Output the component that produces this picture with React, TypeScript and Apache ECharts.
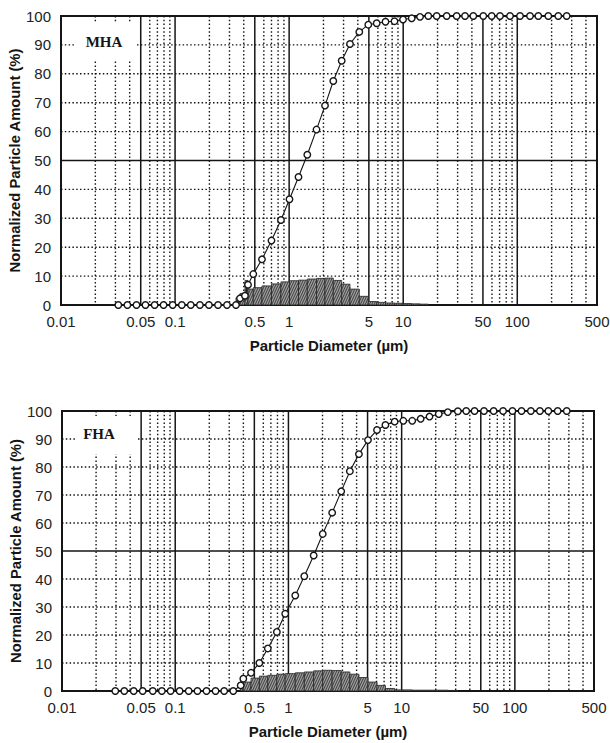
import React, { useEffect, useRef } from 'react';
import * as echarts from 'echarts';

// ---------- data ----------
const sampleNames = ['MHA', 'FHA'];

// MHA: cumulative curve (particle diameter in µm, cumulative %)
const mhaDiameters = [
  0.0318, 0.0382, 0.0459, 0.055, 0.0662, 0.0793, 0.0953, 0.1146, 0.1373, 0.1651, 0.198, 0.2379, 0.2853, 0.342,
  0.3708, 0.41, 0.436, 0.485, 0.578, 0.7, 0.848, 1.007, 1.208, 1.443, 1.738, 2.063, 2.439, 2.889, 3.417, 4.122,
  4.943, 5.856, 6.996, 8.387, 9.96, 11.87, 14.04, 16.6, 19.66, 24.06, 29.43, 34.82, 41.17, 50.37, 59.68, 70.55,
  86.35, 105.7, 129.3, 152.9, 187.1, 228.8, 271.2,
];
const mhaCumulative = [
  0, 0, 0, 0, 0, 0, 0, 0, 0, 0, 0, 0, 0, 0,
  2.3, 3.2, 7, 10.7, 15.8, 22.3, 29.4, 36.6, 44.3, 52, 60.7, 69, 77.5, 84.5, 90.3, 94.5,
  97, 97.5, 98, 98.2, 98.8, 99.2, 99.7, 100, 100, 100, 100, 100, 100, 100, 100, 100,
  100, 100, 100, 100, 100, 100, 100,
];
// MHA: frequency histogram (bin edges in µm, frequency %)
const mhaBinEdges = [
  0.342, 0.3708, 0.41, 0.436, 0.485, 0.578, 0.7, 0.848, 1.007, 1.208, 1.443, 1.738, 2.063, 2.439, 2.889, 3.417,
  4.122, 4.943, 5.856, 6.996, 8.387, 9.96, 11.87, 14.04, 16.6,
];
const mhaFrequency = [
  2.5, 4, 8.5, 5.5, 6.0, 6.6, 7.3, 8.0, 8.4, 8.6, 9.0, 9.2, 9.3, 8.5, 7.2, 5.5, 3.0, 1.2, 0.9, 0.7, 0.6, 0.5, 0.4, 0.3,
];

// FHA: cumulative curve
const fhaDiameters = [
  0.02956, 0.0355, 0.043, 0.0516, 0.0634, 0.0762, 0.091, 0.1094, 0.1315, 0.1572, 0.1889, 0.2271, 0.2707, 0.3255,
  0.3787, 0.3994, 0.4673, 0.5538, 0.6575, 0.7903, 0.9367, 1.149, 1.381, 1.671, 2.009, 2.434, 2.926, 3.488, 4.195,
  5.04, 6.06, 7.19, 8.67, 10.35, 12.4, 14.72, 17.62, 21.27, 25.56, 31.36,
  37.18, 44.05, 53.4, 64.95, 78.7, 95.2, 114.5, 138.4, 166.4, 197.6, 238.9, 287.2,
];
const fhaCumulative = [
  0, 0, 0, 0, 0, 0, 0, 0, 0, 0, 0, 0, 0, 0,
  2.0, 4.4, 6.5, 10.0, 15.2, 21.1, 27.6, 34.1, 41.0, 48.4, 56.1, 63.7, 71.3, 78.5, 84.6,
  89.6, 93.2, 95.0, 96.2, 96.5, 96.5, 97.2, 98.0, 98.9, 99.6, 99.9,
  100, 100, 100, 100, 100, 100, 100, 100, 100, 100, 100, 100,
];
// FHA: frequency histogram
const fhaBinEdges = [
  0.3787, 0.3994, 0.4673, 0.5538, 0.6575, 0.7903, 0.9367, 1.149, 1.381, 1.671, 2.009, 2.434, 2.926, 3.488, 4.195,
  5.04, 6.06, 7.19, 8.67, 10.35, 12.4, 14.72, 17.62, 21.27, 25.56, 31.36,
];
const fhaFrequency = [
  4.5, 3.2, 4.6, 5.3, 5.6, 6.0, 6.2, 6.5, 6.8, 7.2, 7.4, 7.3, 6.8, 6.0, 4.8, 3.2, 2.0, 0.9, 0.4, 0.4, 0.3, 0.3, 0.3,
  0.3, 0.2,
];

// axes
const xTickValues = [0.01, 0.05, 0.1, 0.5, 1, 5, 10, 50, 100, 500];
const xTickLabels = ['0.01', '0.05', '0.1', '0.5', '1', '5', '10', '50', '100', '500'];
const xSolidLines = [0.05, 0.1, 0.5, 1, 5, 10, 50, 100];
const xDottedLines = [
  0.02, 0.03, 0.04, 0.06, 0.07, 0.08, 0.09, 0.2, 0.3, 0.4, 0.6, 0.7, 0.8, 0.9, 2, 3, 4, 6, 7, 8, 9,
  20, 30, 40, 60, 70, 80, 90, 200, 300, 400,
];
const ySolidLines = [50];
const yDottedLines = [10, 20, 30, 40, 60, 70, 80, 90];

const SANS = '"Liberation Sans", Arial, Helvetica, sans-serif';
const SERIF = '"Liberation Serif", "Times New Roman", serif';
const INK = '#151515';
const DOT = [1.5, 2.3];

const vRender = (params: any, api: any) => {
  const cs = params.coordSys;
  const x = api.coord([api.value(0), 50])[0];
  const solid = api.value(2) === 1;
  return {
    type: 'line',
    shape: { x1: x, y1: cs.y, x2: x, y2: cs.y + cs.height },
    style: { stroke: INK, lineWidth: solid ? 1.5 : 1.4, lineDash: solid ? null : DOT },
  };
};

const hRender = (params: any, api: any) => {
  const cs = params.coordSys;
  const y = api.coord([1, api.value(1)])[1];
  const solid = api.value(2) === 1;
  return {
    type: 'line',
    shape: { x1: cs.x, y1: y, x2: cs.x + cs.width, y2: y },
    style: { stroke: INK, lineWidth: solid ? 1.5 : 1.4, lineDash: solid ? null : DOT },
  };
};

const tickRender = (params: any, api: any) => {
  const cs = params.coordSys;
  const x = api.coord([api.value(0), 0])[0];
  return {
    type: 'text',
    x,
    y: cs.y + cs.height + 9,
    style: {
      text: xTickLabels[params.dataIndex],
      align: 'center',
      verticalAlign: 'top',
      fontSize: 15,
      fontFamily: SANS,
      fill: '#222',
    },
  };
};

const histRender = (params: any, api: any) => {
  const p0 = api.coord([api.value(0), api.value(2)]);
  const p1 = api.coord([api.value(1), 0]);
  const xl = p0[0];
  const xr = p1[0];
  const yt = p0[1];
  const yb = p1[1];
  const w = xr - xl;
  const h = yb - yt;
  const children: any[] = [
    {
      type: 'rect',
      shape: { x: xl, y: yt, width: w, height: h },
      style: { fill: '#9c9c9c', stroke: '#222', lineWidth: 0.8 },
    },
  ];
  const k = 2.2;
  const step = 2.4;
  const run = h / k;
  for (let c = xl - run; c < xr; c += step) {
    const sx = Math.max(c, xl);
    const ex = Math.min(c + run, xr);
    if (ex - sx < 0.3) continue;
    children.push({
      type: 'line',
      shape: { x1: sx, y1: yb - (sx - c) * k, x2: ex, y2: yb - (ex - c) * k },
      style: { stroke: '#2a2a2a', lineWidth: 0.8 },
    });
  }
  return { type: 'group', children };
};

function panelSeries(gi: number, diam: number[], cum: number[], edges: number[], freq: number[]) {
  const vLines = [...xSolidLines.map((v) => [v, 50, 1]), ...xDottedLines.map((v) => [v, 50, 0])];
  const hLines = [...ySolidLines.map((v) => [1, v, 1]), ...yDottedLines.map((v) => [1, v, 0])];
  const bins = freq.map((f, i) => [edges[i], edges[i + 1], f]);
  const common = { xAxisIndex: gi, yAxisIndex: gi, silent: true };
  return [
    { ...common, type: 'custom', z: 1, encode: { x: 0, y: 1 }, data: vLines, renderItem: vRender },
    { ...common, type: 'custom', z: 1, encode: { x: 0, y: 1 }, data: hLines, renderItem: hRender },
    { ...common, type: 'custom', z: 3, encode: { x: [0, 1], y: 2 }, data: bins, renderItem: histRender },
    {
      ...common,
      type: 'custom',
      z: 4,
      encode: { x: 0, y: 1 },
      data: xTickValues.map((v) => [v, 0]),
      renderItem: tickRender,
    },
    {
      ...common,
      type: 'line',
      z: 5,
      data: diam.map((d, i) => [d, cum[i]]),
      symbol: 'circle',
      symbolSize: 6.5,
      showSymbol: true,
      lineStyle: { color: INK, width: 1.1 },
      itemStyle: { color: '#fff', borderColor: INK, borderWidth: 1.4 },
    },
  ];
}

function xAxisFor(gi: number) {
  return {
    type: 'log',
    logBase: 10,
    gridIndex: gi,
    min: 0.01,
    max: 500,
    axisLine: { show: true, onZero: false, lineStyle: { color: INK, width: 2 } },
    axisTick: { show: false },
    axisLabel: { show: false },
    splitLine: { show: false },
    minorTick: { show: false },
    minorSplitLine: { show: false },
    name: 'Particle Diameter (µm)',
    nameLocation: 'middle',
    nameGap: 33,
    nameMoveOverlap: false,
    nameTextStyle: { fontSize: 15, fontWeight: 'bold', fontFamily: SANS, color: INK },
  };
}

function yAxisFor(gi: number) {
  return {
    type: 'value',
    gridIndex: gi,
    min: 0,
    max: 100,
    interval: 10,
    axisLine: { show: true, lineStyle: { color: INK, width: 2 } },
    axisTick: { show: false },
    splitLine: { show: false },
    axisLabel: { fontSize: 15, color: '#222', fontFamily: SANS, margin: 10 },
    name: 'Normalized Particle Amount (%)',
    nameLocation: 'middle',
    nameGap: 39,
    nameMoveOverlap: false,
    nameTextStyle: { fontSize: 14.8, fontWeight: 'bold', fontFamily: SANS, color: INK },
  };
}

function sampleLabel(name: string, boxX: number, boxY: number, tx: number, ty: number) {
  return {
    type: 'group',
    z: 100,
    children: [
      { type: 'rect', z: 100, shape: { x: boxX, y: boxY, width: 60, height: 38 }, style: { fill: '#fff' } },
      {
        type: 'text',
        z: 101,
        x: tx,
        y: ty,
        style: {
          text: name,
          align: 'center',
          verticalAlign: 'middle',
          fontSize: 15,
          fontWeight: 'bold',
          fontFamily: SERIF,
          fill: INK,
        },
      },
    ],
  };
}

export default function App() {
  const ref = useRef<HTMLDivElement>(null);
  useEffect(() => {
    if (!ref.current) return;
    const chart = echarts.init(ref.current, null, { renderer: 'svg' });
    chart.setOption({
      animation: false,
      backgroundColor: '#fff',
      grid: [
        {
          left: 61, top: 16, width: 536, height: 289, show: true, borderColor: INK, borderWidth: 2,
          containLabel: false, outerBoundsMode: 'none',
        },
        {
          left: 62, top: 411, width: 532, height: 280, show: true, borderColor: INK, borderWidth: 2,
          containLabel: false, outerBoundsMode: 'none',
        },
      ],
      xAxis: [xAxisFor(0), xAxisFor(1)],
      yAxis: [yAxisFor(0), yAxisFor(1)],
      graphic: [
        sampleLabel(sampleNames[0], 76, 22, 104, 42),
        sampleLabel(sampleNames[1], 76, 416, 99, 434),
      ],
      series: [
        ...panelSeries(0, mhaDiameters, mhaCumulative, mhaBinEdges, mhaFrequency),
        ...panelSeries(1, fhaDiameters, fhaCumulative, fhaBinEdges, fhaFrequency),
      ],
    });
    return () => chart.dispose();
  }, []);
  return (
    <div
      ref={ref}
      style={{ position: 'fixed', left: 0, top: 0, width: 610, height: 743, background: '#fff' }}
    />
  );
}
